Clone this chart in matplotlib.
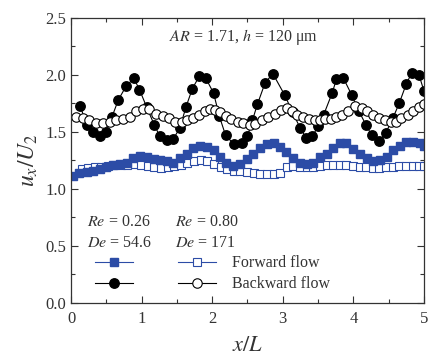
import matplotlib
matplotlib.use('Agg')
import matplotlib.pyplot as plt
from matplotlib.ticker import MultipleLocator

plt.rcParams['font.family'] = ['Liberation Serif', 'DejaVu Serif']
plt.rcParams['mathtext.fontset'] = 'stix'

# forward flow, Re = 0.26 (filled squares)
fwd1_x = [0.03, 0.12, 0.22, 0.31, 0.41, 0.50, 0.60, 0.69, 0.79, 0.88, 0.98, 1.07, 1.17,
          1.26, 1.36, 1.45, 1.55, 1.64, 1.73, 1.83, 1.92, 2.02, 2.11, 2.20, 2.30, 2.39,
          2.49, 2.58, 2.68, 2.77, 2.87, 2.96, 3.05, 3.15, 3.24, 3.34, 3.43, 3.53, 3.62,
          3.71, 3.81, 3.90, 4.00, 4.09, 4.19, 4.28, 4.38, 4.47, 4.56, 4.66, 4.75, 4.85,
          4.94, 5.00]
fwd1_y = [1.11, 1.14, 1.15, 1.16, 1.17, 1.19, 1.21, 1.22, 1.23, 1.27, 1.29, 1.28, 1.26,
          1.25, 1.24, 1.23, 1.27, 1.31, 1.36, 1.38, 1.37, 1.34, 1.28, 1.23, 1.20, 1.22,
          1.26, 1.31, 1.36, 1.39, 1.40, 1.37, 1.32, 1.27, 1.23, 1.22, 1.23, 1.28, 1.31,
          1.36, 1.40, 1.40, 1.35, 1.31, 1.27, 1.24, 1.25, 1.28, 1.34, 1.38, 1.41, 1.41,
          1.40, 1.38]

# forward flow, Re = 0.80 (open squares)
fwd2_x = [0.15, 0.24, 0.34, 0.43, 0.52, 0.62, 0.71, 0.80, 0.90, 0.99, 1.09, 1.18, 1.27,
          1.37, 1.46, 1.56, 1.65, 1.74, 1.84, 1.93, 2.03, 2.12, 2.21, 2.31, 2.40, 2.50,
          2.59, 2.68, 2.78, 2.87, 2.96, 3.06, 3.15, 3.25, 3.34, 3.43, 3.53, 3.62, 3.71,
          3.81, 3.90, 4.00, 4.09, 4.18, 4.28, 4.37, 4.46, 4.56, 4.65, 4.75, 4.84, 4.93,
          5.00]
fwd2_y = [1.17, 1.18, 1.19, 1.19, 1.20, 1.21, 1.21, 1.21, 1.22, 1.21, 1.20, 1.19, 1.18,
          1.19, 1.20, 1.21, 1.23, 1.24, 1.25, 1.24, 1.22, 1.19, 1.17, 1.16, 1.16, 1.15,
          1.14, 1.13, 1.13, 1.13, 1.14, 1.19, 1.20, 1.19, 1.19, 1.19, 1.20, 1.21, 1.21,
          1.21, 1.21, 1.20, 1.19, 1.19, 1.18, 1.18, 1.19, 1.19, 1.20, 1.20, 1.20, 1.20,
          1.20]

# backward flow, Re = 0.26 (filled circles)
bwd1_x = [0.13, 0.22, 0.31, 0.41, 0.50, 0.58, 0.67, 0.78, 0.89, 0.97, 1.07, 1.18, 1.26,
          1.36, 1.45, 1.54, 1.63, 1.72, 1.82, 1.91, 2.02, 2.10, 2.19, 2.31, 2.42, 2.50,
          2.57, 2.64, 2.75, 2.86, 3.03, 3.14, 3.25, 3.33, 3.42, 3.50, 3.58, 3.70, 3.76,
          3.86, 3.98, 4.08, 4.18, 4.26, 4.36, 4.46, 4.56, 4.65, 4.75, 4.83, 4.93, 5.00]
bwd1_y = [1.73, 1.56, 1.50, 1.46, 1.50, 1.63, 1.78, 1.90, 1.97, 1.87, 1.72, 1.56, 1.46,
          1.43, 1.44, 1.53, 1.72, 1.88, 1.99, 1.97, 1.84, 1.64, 1.47, 1.39, 1.40, 1.46,
          1.60, 1.74, 1.93, 2.01, 1.82, 1.67, 1.53, 1.45, 1.46, 1.55, 1.65, 1.84, 1.96,
          1.97, 1.82, 1.68, 1.56, 1.47, 1.42, 1.49, 1.62, 1.75, 1.92, 2.02, 2.00, 1.86]

# backward flow, Re = 0.80 (open circles)
bwd2_x = [0.07, 0.17, 0.26, 0.36, 0.45, 0.55, 0.64, 0.74, 0.83, 0.92, 1.02, 1.11, 1.21,
          1.30, 1.39, 1.48, 1.57, 1.65, 1.73, 1.81, 1.90, 1.97, 2.04, 2.11, 2.19, 2.27,
          2.36, 2.44, 2.53, 2.61, 2.70, 2.79, 2.89, 2.98, 3.06, 3.13, 3.20, 3.28, 3.37,
          3.45, 3.53, 3.60, 3.68, 3.76, 3.84, 3.93, 4.02, 4.12, 4.20, 4.28, 4.36, 4.45,
          4.53, 4.60, 4.68, 4.77, 4.85, 4.93, 5.00]
bwd2_y = [1.63, 1.62, 1.60, 1.58, 1.58, 1.59, 1.60, 1.61, 1.63, 1.68, 1.70, 1.70, 1.66,
          1.64, 1.62, 1.59, 1.59, 1.60, 1.62, 1.65, 1.68, 1.70, 1.69, 1.67, 1.64, 1.61,
          1.59, 1.58, 1.56, 1.57, 1.60, 1.63, 1.66, 1.69, 1.71, 1.68, 1.65, 1.63, 1.61,
          1.60, 1.60, 1.61, 1.61, 1.63, 1.65, 1.68, 1.73, 1.71, 1.68, 1.65, 1.62, 1.60,
          1.59, 1.59, 1.62, 1.65, 1.68, 1.72, 1.74]

blue = '#2c4ca6'
ink = '#333333'

fig = plt.figure(figsize=(4.33, 3.64), dpi=100)
ax = fig.add_axes([0.164, 0.168, 0.815, 0.783])

l_fo = ax.plot(fwd2_x, fwd2_y, '-', color=blue, lw=0.8, marker='s', ms=5.6, mfc='white', mec=blue, mew=0.8)[0]
l_ff = ax.plot(fwd1_x, fwd1_y, '-', color=blue, lw=0.8, marker='s', ms=6.0, mfc=blue, mec=blue)[0]
l_bf = ax.plot(bwd1_x, bwd1_y, '-', color='black', lw=0.8, marker='o', ms=6.8, mfc='black', mec='black')[0]
l_bo = ax.plot(bwd2_x, bwd2_y, '-', color='black', lw=0.8, marker='o', ms=6.8, mfc='white', mec='black', mew=0.8)[0]

ax.set_xlim(0, 5)
ax.set_ylim(0, 2.5)
ax.xaxis.set_major_locator(MultipleLocator(1))
ax.xaxis.set_minor_locator(MultipleLocator(0.5))
ax.yaxis.set_minor_locator(MultipleLocator(0.25))
ax.set_yticks([0, 0.5, 1.0, 1.5, 2.0, 2.5])
ax.set_yticklabels(['0.0', '0.5', '1.0', '1.5', '2.0', '2.5'])
ax.tick_params(which='both', direction='in', top=True, right=True, colors=ink, labelsize=12)
ax.tick_params(which='major', length=5, width=0.8)
ax.tick_params(which='minor', length=3, width=0.8)
ax.tick_params(axis='x', pad=6)
for s in ax.spines.values():
    s.set_color(ink)
    s.set_linewidth(0.9)

ax.set_xlabel(r'$x/L$', fontsize=16, color=ink, labelpad=7)
ax.set_ylabel(r'$u_x/U_2$', fontsize=17, color=ink, labelpad=4)

ax.text(0.49, 0.933, r'$AR$ = 1.71, $h$ = 120 μm', transform=ax.transAxes,
        ha='center', va='center', fontsize=11.5, color=ink)
ax.text(0.045, 0.284, r'$Re$ = 0.26', transform=ax.transAxes, ha='left', va='center', fontsize=11.5, color=ink)
ax.text(0.045, 0.210, r'$De$ = 54.6', transform=ax.transAxes, ha='left', va='center', fontsize=11.5, color=ink)
ax.text(0.295, 0.284, r'$Re$ = 0.80', transform=ax.transAxes, ha='left', va='center', fontsize=11.5, color=ink)
ax.text(0.295, 0.210, r'$De$ = 171', transform=ax.transAxes, ha='left', va='center', fontsize=11.5, color=ink)

leg = ax.legend([l_ff, l_bf, l_fo, l_bo], ['', '', 'Forward flow', 'Backward flow'],
                ncol=2, frameon=False, loc='lower left', bbox_to_anchor=(0.05, 0.015),
                fontsize=11.5, handlelength=2.4, handletextpad=1.0, columnspacing=1.8,
                labelspacing=0.3, borderaxespad=0)
for t in leg.get_texts():
    t.set_color(ink)

fig.savefig('out.png', dpi=100)
